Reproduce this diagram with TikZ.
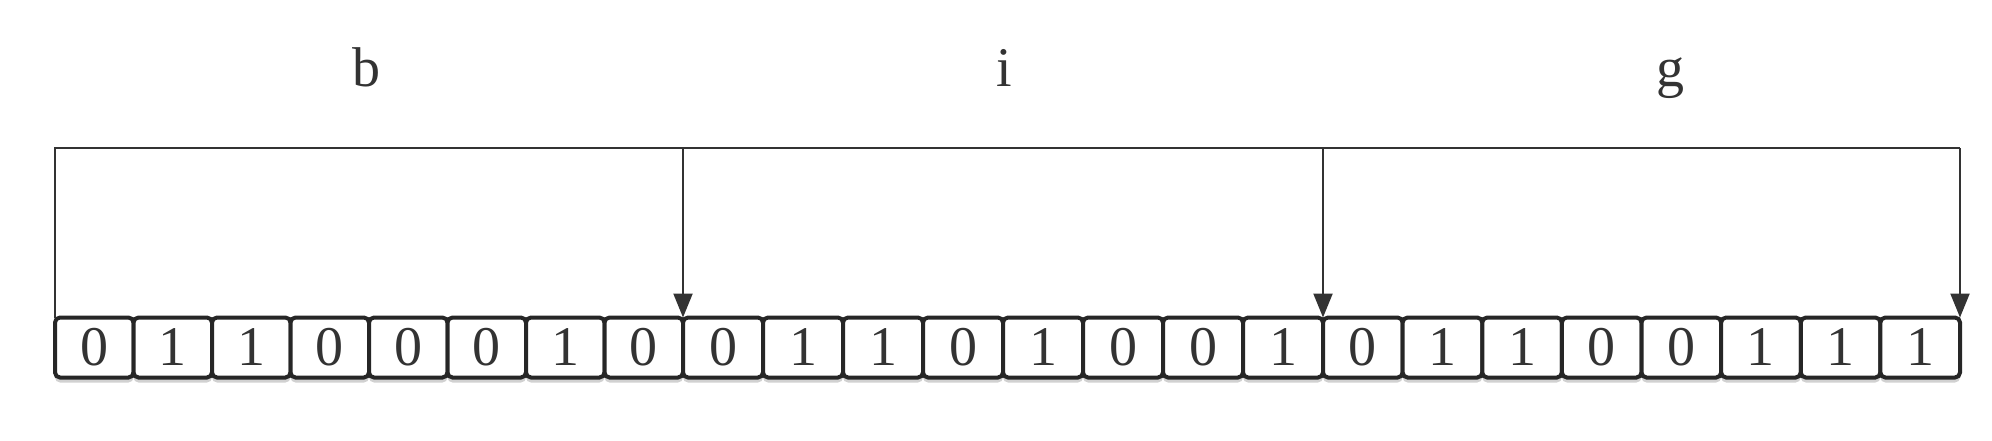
\documentclass[tikz,border=0pt]{standalone}
\usepackage{fontspec}
\setmainfont{Liberation Serif}
\usetikzlibrary{arrows.meta,shadows}
\begin{document}
\begin{tikzpicture}[x=0.5pt,y=-0.5pt,
  bit/.style={draw=black!85, line width=2pt, rounded corners=2.5pt,
    minimum height=30pt, inner sep=0pt, outer sep=0pt, text=black!80, fill=white,
    font=\fontsize{28}{30}\selectfont,
    drop shadow={shadow xshift=0pt, shadow yshift=-2.5pt, fill=black!30, opacity=0.6}},
  link/.style={draw=black!80, line width=1.1pt},
  tip/.style={-{Triangle[length=12pt,width=9.5pt]}},
  lab/.style={font=\fontsize{28}{30}\selectfont, text=black!80, anchor=base}]
\useasboundingbox (0,0) rectangle (1992,440);
\foreach \d [count=\k from 0] in {0,1,1,0,0,0,1,0,0,1,1,0,1,0,0,1,0,1,1,0,0,1,1,1} {
  \pgfmathtruncatemacro\seg{floor(\k/8)}
  \pgfmathtruncatemacro\pos{\k-8*\seg}
  \pgfmathsetmacro\xa{{55,683,1323}[\seg]}
  \pgfmathsetmacro\bw{{628,640,637}[\seg]/8}
  \pgfmathsetmacro\xc{\xa+(\pos+0.5)*\bw}
  \pgfmathsetmacro\wpt{\bw*0.5}
  \node[bit, minimum width=\wpt pt] (c\k) at (\xc,347.5) {\d};
}
\node[lab] (lb) at (366,86) {b};
\node[lab] (li) at (1004,86) {i};
\node[lab] (lg) at (1670,86) {g};
\coordinate (tl) at (55,148);
\coordinate (t1) at (683,148);
\coordinate (t2) at (1323,148);
\coordinate (tr) at (1960,148);
\draw[link] (tl |- c0.north) -- (tl) -- (tr);
\draw[link,tip] (t1) -- (t1 |- c7.north);
\draw[link,tip] (t2) -- (t2 |- c15.north);
\draw[link,tip] (tr) -- (tr |- c23.north);
\end{tikzpicture}
\end{document}
